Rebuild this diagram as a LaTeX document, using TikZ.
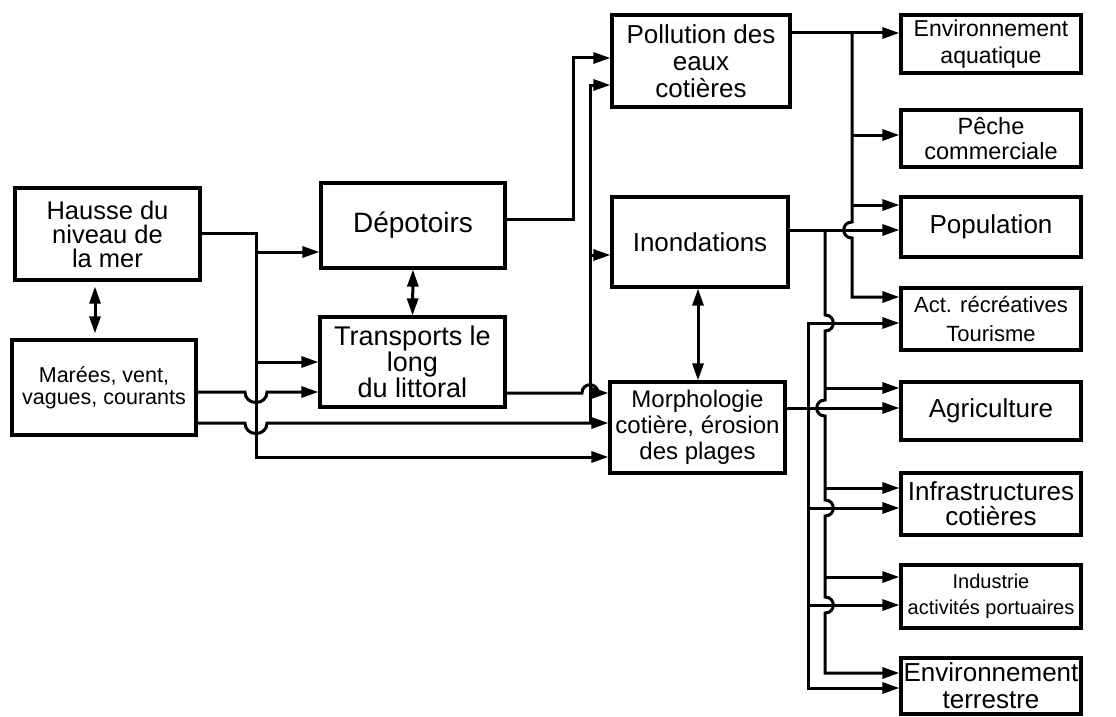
\documentclass[tikz,border=0pt]{standalone}
\usepackage{fontspec}
\setmainfont{Liberation Sans}
\usetikzlibrary{arrows.meta}
\newcommand\myfs[2]{\fontsize{#1}{#2}\selectfont}
\begin{document}
\begin{tikzpicture}[x=1pt,y=-1pt,
  box/.style={draw,line width=3.2pt,inner sep=0pt,align=center},
  ln/.style={line width=3pt,line join=miter},
  tip/.tip={Triangle[length=17pt,width=11pt]},
  arr/.style={ln,-tip},
  darr/.style={ln,tip-tip},
]
\fill[white] (0,0) rectangle (1116,717);
\useasboundingbox (0,0) rectangle (1116,717);

% left column
\node[box,minimum width=185pt,minimum height=92pt,font=\myfs{25.5}{24}] (haus) at (107.5,234) {Hausse du\\niveau de\\la mer};
\node[box,minimum width=184pt,minimum height=95pt,font=\myfs{21.5}{22}] (mar) at (104,387.5) {Marées, vent,\\vagues, courants};
% second column
\node[box,minimum width=184pt,minimum height=85pt,font=\myfs{28}{28}] (dep) at (413,225.5) {\raisebox{4pt}{Dépotoirs}};
\node[box,minimum width=185pt,minimum height=90pt,font=\myfs{27}{26}] (tra) at (412.5,362) {Transports le\\long\\du littoral};
% third column
\node[box,minimum width=178pt,minimum height=92pt,font=\myfs{26}{27}] (pol) at (701,61) {Pollution des\\eaux\\cotières};
\node[box,minimum width=176pt,minimum height=90pt,font=\myfs{26}{26}] (ino) at (700,242) {Inondations};
\node[box,minimum width=175pt,minimum height=91pt,font=\myfs{24}{26}] (mor) at (697.5,427.5) {Morphologie\\cotière, érosion\\des plages};
% right column
\node[box,minimum width=180pt,minimum height=58pt,font=\myfs{23}{27}] (eaq) at (991,44) {Environnement\\aquatique};
\node[box,minimum width=180pt,minimum height=57pt,font=\myfs{23.5}{25}] (pec) at (991,138.5) {Pêche\\commerciale};
\node[box,minimum width=180pt,minimum height=60pt,font=\myfs{26}{26}] (pop) at (991,227) {Population};
\node[box,minimum width=180pt,minimum height=62pt,font=\myfs{22}{29}] (act) at (991,319) {Act. récréatives\\Tourisme};
\node[box,minimum width=180pt,minimum height=58pt,font=\myfs{26}{26}] (agr) at (991,411) {Agriculture};
\node[box,minimum width=180pt,minimum height=62pt,font=\myfs{26}{25}] (inf) at (991,504) {Infrastructures\\cotières};
\node[box,minimum width=180pt,minimum height=63pt,font=\myfs{20}{26}] (ind) at (991,596.5) {Industrie\\activités portuaires};
\node[box,minimum width=180pt,minimum height=56pt,font=\myfs{26}{27}] (ete) at (991,686) {Environnement\\terrestre};

% ---- left connectors
\draw[darr,shorten <=5pt,shorten >=5pt] (haus.south -| 95,0) -- (mar.north -| 95,0);
\draw[arr] (haus.east |- 0,233) -- (256,233) -- (256,457) -- (mor.west |- 0,457);
\draw[arr] (256,252) -- (dep.west |- 0,252);
\draw[arr] (256,362) -- (tra.west |- 0,362);
\draw[arr] (mar.east |- 0,392) -- (245,392) .. controls (245,406) and (267,406) .. (267,392) -- (tra.west |- 0,392);
\draw[arr] (mar.east |- 0,423) -- (245,423) .. controls (245,437) and (267,437) .. (267,423) -- (mor.west |- 0,423);
\draw[darr] (dep.south) -- (tra.north);
\draw[arr] (dep.east |- 0,219) -- (573,219) -- (573,58) -- (pol.west |- 0,58);
\draw[arr] (590,423) -- (590,85) -- (pol.west |- 0,85);
\draw[arr] (590,255) -- (ino.west |- 0,255);
\draw[arr] (tra.east |- 0,393) -- (582,393) .. controls (582,382) and (598,382) .. (598,393) -- (mor.west |- 0,393);
\draw[darr] (ino.south -| 698,0) -- (mor.north -| 698,0);

% ---- right connectors
\draw[arr] (pol.east |- 0,33) -- (eaq.west |- 0,33);
\draw[arr] (852,33) -- (852,222) .. controls (841,222) and (841,238) .. (852,238) -- (852,297) -- (act.west |- 0,297);
\draw[arr] (852,135) -- (pec.west |- 0,135);
\draw[arr] (852,205) -- (pop.west |- 0,205);

\draw[arr] (ino.east |- 0,230) -- (pop.west |- 0,230);
\draw[arr] (825,230) -- (825,315) .. controls (836,315) and (836,331) .. (825,331)
  -- (825,400) .. controls (814,400) and (814,416) .. (825,416)
  -- (825,500) .. controls (836,500) and (836,516) .. (825,516)
  -- (825,597) .. controls (836,597) and (836,613) .. (825,613)
  -- (825,673) -- (ete.west |- 0,673);
\draw[arr] (825,388) -- (agr.west |- 0,388);
\draw[arr] (825,488) -- (inf.west |- 0,488);
\draw[arr] (825,577) -- (ind.west |- 0,577);

\draw[arr] (mor.east |- 0,408) -- (agr.west |- 0,408);
\draw[darr] (act.west |- 0,323) -- (808,323) -- (808,688) -- (ete.west |- 0,688);
\draw[arr] (808,508) -- (inf.west |- 0,508);
\draw[arr] (808,605) -- (ind.west |- 0,605);
\end{tikzpicture}
\end{document}
